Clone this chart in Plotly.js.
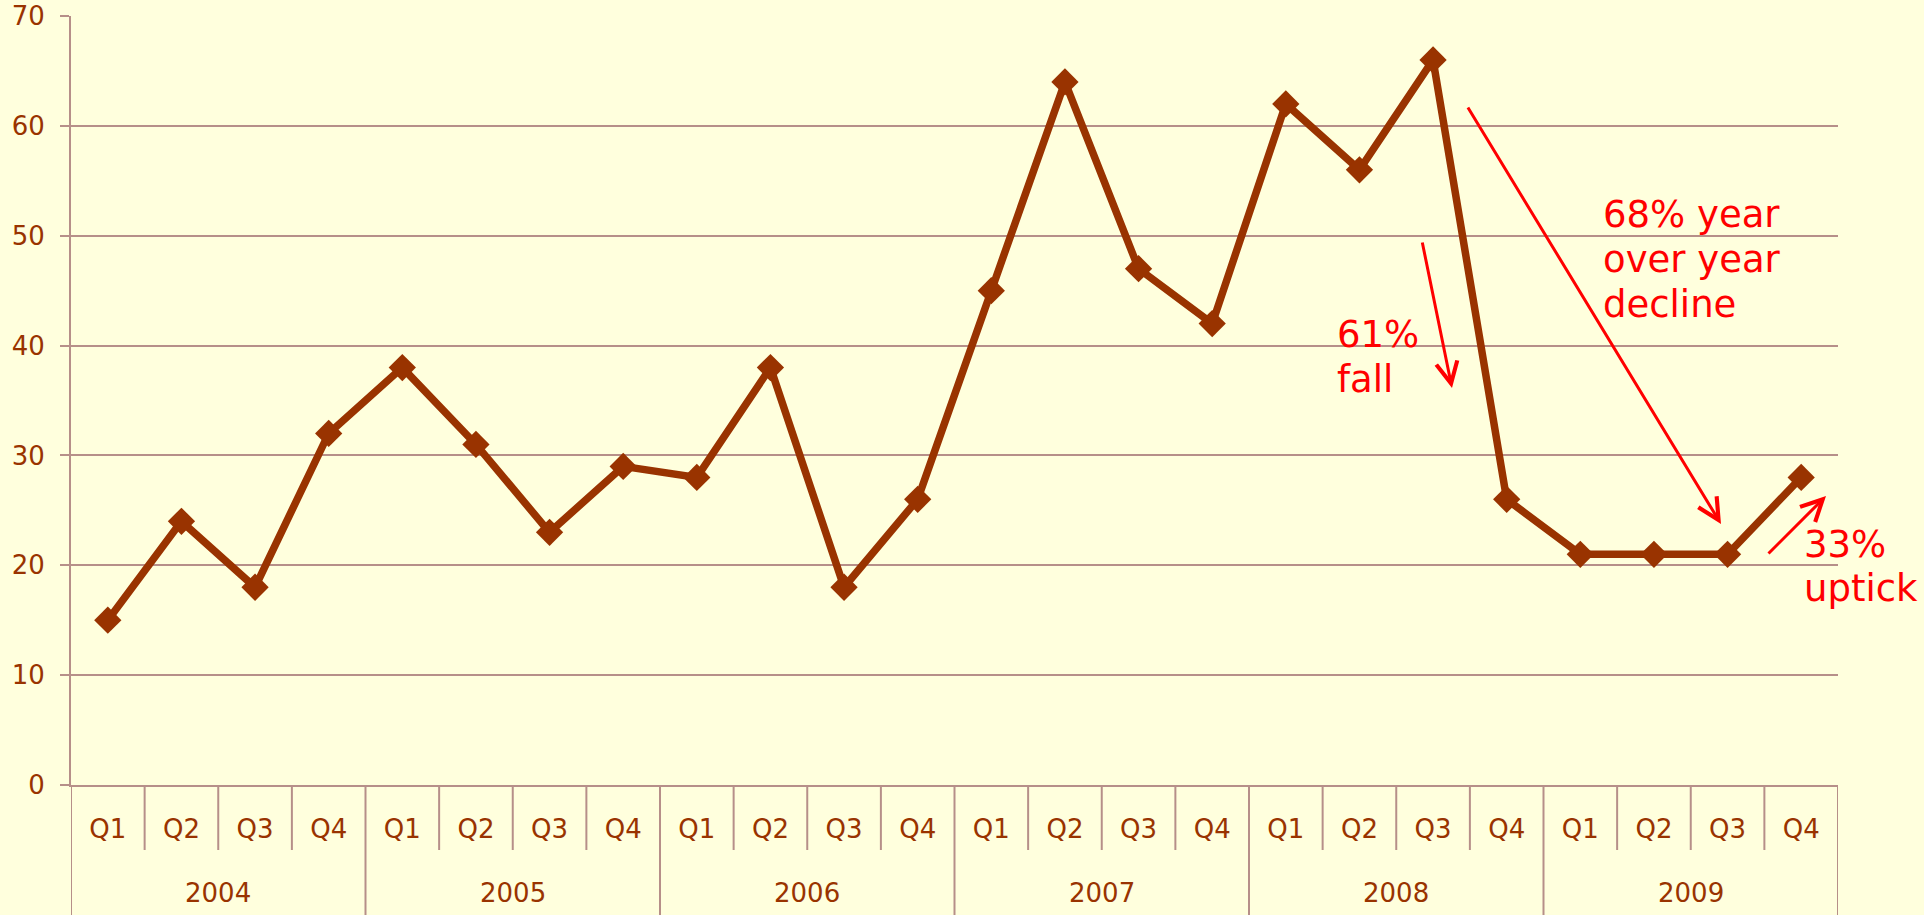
<!DOCTYPE html>
<html>
<head>
<meta charset="utf-8">
<script src="https://cdn.plot.ly/plotly-3.0.1.min.js"></script>
<style>
  html, body { margin: 0; padding: 0; background: #FFFFDD; }
  #chart { width: 1924px; height: 915px; }
</style>
</head>
<body>
<div id="chart"></div>
<script>
// ---- data ----
const years = ['2004', '2005', '2006', '2007', '2008', '2009'];
const quarters = ['Q1', 'Q2', 'Q3', 'Q4'];
const values = [15, 24, 18, 32, 38, 31, 23, 29, 28, 38, 18, 26, 45, 64, 47, 42, 62, 56, 66, 26, 21, 21, 21, 28];
const yTicks = [0, 10, 20, 30, 40, 50, 60, 70];
const calloutLines1 = ['68% year', 'over year', 'decline'];
const calloutLines2 = ['61%', 'fall'];
const calloutLines3 = ['33%', 'uptick'];

// ---- styling constants ----
const BG = '#FFFFDD';
const BROWN = '#993300';
const GRID = '#B68F89';
const RED = '#FF0000';
const FONT = 'DejaVu Sans';
const CALLOUT_SIZE = 37;

const categories = [];
const qLabels = [];
years.forEach(y => quarters.forEach(q => { categories.push(y + ' ' + q); qLabels.push(q); }));

// plot-area geometry in pixels
const FIG_W = 1924, FIG_H = 915;
const ML = 71, MR = 86, MT = 16, MB = 130;
const PW = FIG_W - ML - MR, PH = FIG_H - MT - MB;
const px = x => (x - ML) / PW;
const py = y => (FIG_H - MB - y) / PH;

const shapes = [];
const nCat = categories.length;
// quarter dividers (short) and year dividers (long)
for (let i = 0; i <= nCat; i++) {
  const isYear = (i % quarters.length === 0);
  shapes.push({
    type: 'line', xref: 'x', yref: 'paper',
    x0: i - 0.5, x1: i - 0.5,
    y0: 0, y1: isYear ? py(FIG_H + 5) : py(850),
    line: { color: GRID, width: 2 },
    layer: 'below'
  });
}

const annotations = [];
// year labels
years.forEach((y, k) => {
  annotations.push({
    xref: 'x', yref: 'paper',
    x: k * quarters.length + (quarters.length - 1) / 2,
    y: py(893), text: y, showarrow: false,
    xanchor: 'center', yanchor: 'middle',
    font: { family: FONT, size: 26, color: BROWN }
  });
});

// callout texts (left edge and baselines in pixels)
const callouts = [
  { lines: calloutLines1, x: 1601, baselines: [227, 272, 317] },
  { lines: calloutLines2, x: 1335, baselines: [347, 392] },
  { lines: calloutLines3, x: 1802, baselines: [557, 601] }
];
callouts.forEach(c => c.lines.forEach((t, k) => annotations.push({
  xref: 'paper', yref: 'paper', x: px(c.x), y: py(c.baselines[k] - 0.33 * CALLOUT_SIZE),
  text: t, showarrow: false, align: 'left',
  xanchor: 'left', yanchor: 'middle',
  font: { family: FONT, size: CALLOUT_SIZE, color: RED }
})));

// callout arrows: tip + tail in pixels
const arrows = [
  { tip: [1452, 388], tail: [1422, 241] },
  { tip: [1721, 524], tail: [1467, 106] },
  { tip: [1826, 496], tail: [1767, 555] }
];
arrows.forEach(a => annotations.push({
  xref: 'paper', yref: 'paper', x: px(a.tip[0]), y: py(a.tip[1]),
  ax: a.tail[0] - a.tip[0], ay: a.tail[1] - a.tip[1],
  text: '', showarrow: true, arrowhead: 5, arrowsize: 1.4,
  arrowwidth: 3, arrowcolor: RED, standoff: 0, startstandoff: 0
}));

const trace = {
  type: 'scatter', mode: 'lines+markers',
  x: categories, y: values,
  line: { color: BROWN, width: 7.5 },
  marker: { symbol: 'diamond', size: 21, color: BROWN },
  cliponaxis: false,
  hoverinfo: 'x+y'
};

const layout = {
  width: FIG_W, height: FIG_H,
  margin: { l: ML, r: MR, t: MT, b: MB, pad: 0 },
  paper_bgcolor: BG, plot_bgcolor: BG,
  showlegend: false,
  font: { family: FONT, size: 26, color: BROWN },
  xaxis: {
    type: 'category',
    range: [-0.5, nCat - 0.5],
    tickmode: 'array', tickvals: categories, ticktext: qLabels,
    ticks: '', showgrid: false, zeroline: false,
    showline: true, linecolor: GRID, linewidth: 2,
    tickfont: { family: FONT, size: 26, color: BROWN },
    ticklabelstandoff: 20,
    fixedrange: true
  },
  yaxis: {
    range: [0, 70],
    tickmode: 'array', tickvals: yTicks, ticktext: yTicks.map(String),
    ticks: 'outside', ticklen: 9, tickwidth: 2, tickcolor: GRID,
    showgrid: true, gridcolor: GRID, gridwidth: 2,
    zeroline: false,
    showline: true, linecolor: GRID, linewidth: 2,
    tickfont: { family: FONT, size: 26, color: BROWN },
    ticklabelstandoff: 10,
    fixedrange: true
  },
  shapes: shapes,
  annotations: annotations
};

Plotly.newPlot('chart', [trace], layout, { displayModeBar: false, staticPlot: true });
</script>
</body>
</html>
